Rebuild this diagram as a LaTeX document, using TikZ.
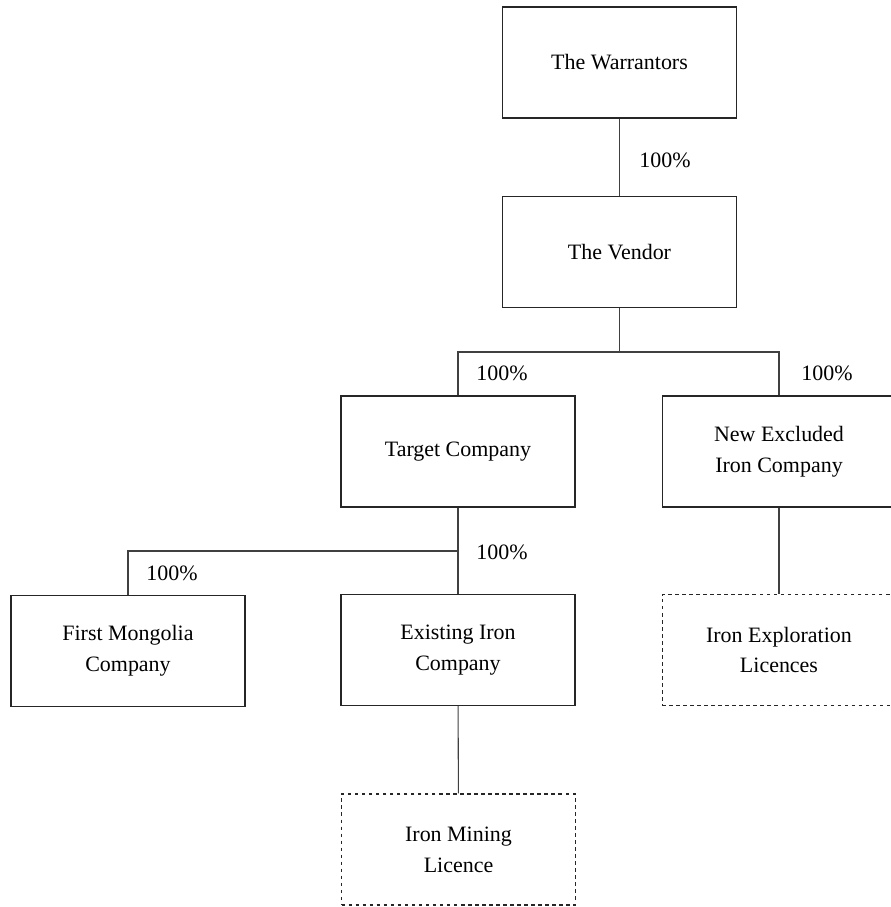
\documentclass[tikz,border=0pt]{standalone}
\usepackage{fontspec}
\setmainfont{Liberation Serif}
\usepackage{tikz}

\begin{document}
\begin{tikzpicture}[x=0.02cm,y=-0.02cm,
  every node/.style={font=\fontsize{12.5}{17.5}\selectfont},
  entity/.style={draw=black!85,line width=0.6pt,rectangle,align=center,
    minimum width=4.68cm,minimum height=2.22cm,inner sep=0pt},
  licence/.style={entity,dashed,dash pattern=on 2pt off 2pt},
  link/.style={draw=black!75,line width=0.6pt}]
\useasboundingbox (0,0) rectangle (891,907);
\node[entity] (warr) at (619.5,62.5) {The Warrantors};
\node[entity] (vendor) at (619.5,252) {The Vendor};
\node[entity] (target) at (458,451.5) {Target Company};
\node[entity] (newex) at (779,451.5) {New Excluded\\Iron Company};
\node[entity] (first) at (128,651) {First Mongolia\\Company};
\node[entity] (exist) at (458,650) {Existing Iron\\Company};
\node[licence] (explor) at (779,650) {Iron Exploration\\Licences};
\node[licence] (mining) at (458.5,849.5) {Iron Mining\\Licence};
\coordinate (split1) at (619.5,352);
\coordinate (split2) at (458,551);
\draw[link] (warr) -- (vendor);
\draw[link] (vendor) -- (split1);
\draw[link] (target.north) |- (split1) -| (newex.north);
\draw[link] (target) -- (exist);
\draw[link] (first.north) |- (split2);
\draw[link] (newex) -- (explor);
\draw[link] (exist) -- (mining);
\node (p1) at (665,160) {100\%};
\node (p2) at (502,373) {100\%};
\node (p3) at (827,373) {100\%};
\node (p4) at (502,552) {100\%};
\node (p5) at (172,573) {100\%};
\end{tikzpicture}
\end{document}
